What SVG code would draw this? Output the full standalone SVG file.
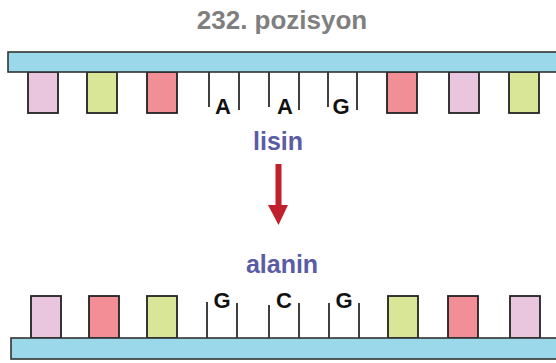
<svg xmlns="http://www.w3.org/2000/svg" width="556" height="363" viewBox="0 0 556 363">
<style>
.bar{fill:#9bd9ea;stroke:#333;stroke-width:1.6}
.box{stroke:#222;stroke-width:1.8}
.pk{fill:#e9c6de}.gr{fill:#d9e597}.rd{fill:#f28e95}
.tick{stroke:#111;stroke-width:1.6;fill:none}
.base{font-family:"Liberation Sans",Arial,sans-serif;font-weight:bold;font-size:22px;fill:#111;text-anchor:middle}
.aa{font-family:"Liberation Sans",Arial,sans-serif;font-weight:bold;font-size:25px;fill:#5b5ca6;text-anchor:middle}
.title{font-family:"Liberation Sans",Arial,sans-serif;font-weight:bold;font-size:26px;fill:#7f7f7f;text-anchor:middle}
</style>
<rect width="556" height="363" fill="#fff"/>
<text id="title" class="title" x="282" y="29">232. pozisyon</text>
<g id="top-strand">
<rect class="box pk" x="28" y="72" width="30" height="41"/>
<rect class="box gr" x="87" y="72" width="30" height="41"/>
<rect class="box rd" x="147" y="72" width="30" height="41"/>
<path class="tick" d="M209 72V107M239 72V110M269 72V107M299 72V110M328 72V107M357 72V110"/>
<text class="base" x="223" y="114">A</text>
<text class="base" x="285" y="114">A</text>
<text class="base" x="341" y="114">G</text>
<rect class="box rd" x="387" y="72" width="30" height="41"/>
<rect class="box pk" x="449" y="72" width="30" height="41"/>
<rect class="box gr" x="509" y="72" width="30" height="41"/>
<rect class="bar" x="8" y="52" width="560" height="20"/>
</g>
<text id="lisin" class="aa" x="278" y="150">lisin</text>
<g id="connectors">
<rect x="275.5" y="164" width="6" height="42" fill="#c0202b"/>
<polygon points="268,205 288,205 278.5,225" fill="#c0202b"/>
</g>
<text id="alanin" class="aa" x="282" y="273">alanin</text>
<g id="bottom-strand">
<rect class="box pk" x="31" y="296" width="30" height="42"/>
<rect class="box rd" x="89" y="296" width="30" height="42"/>
<rect class="box gr" x="147" y="296" width="30" height="42"/>
<path class="tick" d="M207 302V338M237 303V338M269 305V338M299 303V338M329 303V338M359 303V338"/>
<text class="base" x="222" y="308">G</text>
<text class="base" x="284" y="308">C</text>
<text class="base" x="344" y="308">G</text>
<rect class="box gr" x="388" y="296" width="30" height="42"/>
<rect class="box rd" x="448" y="296" width="30" height="42"/>
<rect class="box pk" x="510" y="296" width="30" height="42"/>
<rect class="bar" x="11" y="338" width="560" height="21"/>
</g>
</svg>
